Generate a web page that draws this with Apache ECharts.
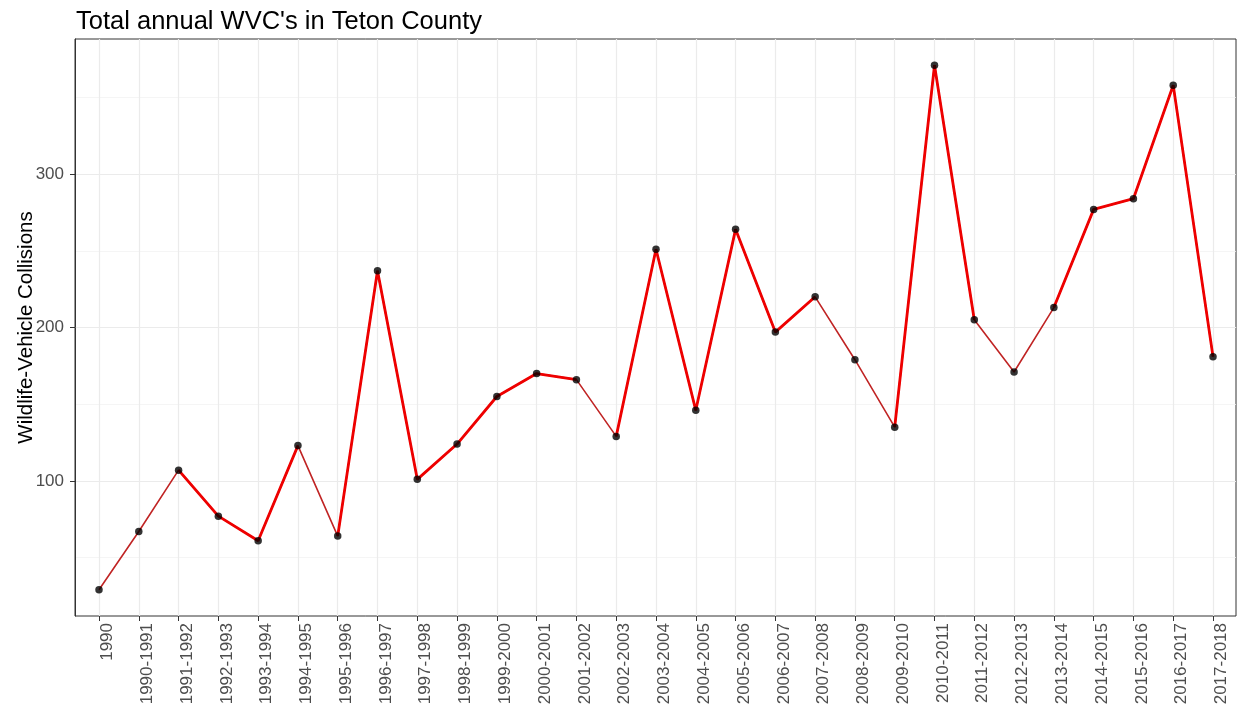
<!DOCTYPE html>
<html>
<head>
<meta charset="utf-8">
<title>Total annual WVC's in Teton County</title>
<script src="https://cdn.jsdelivr.net/npm/echarts@6/dist/echarts.min.js"></script>
<style>
  html, body { margin: 0; padding: 0; background: #fff; }
  #chart { width: 1239px; height: 713px; }
</style>
</head>
<body>
<div id="chart"></div>
<script>
const seasons = [
  '1990', '1990-1991', '1991-1992', '1992-1993', '1993-1994', '1994-1995',
  '1995-1996', '1996-1997', '1997-1998', '1998-1999', '1999-2000', '2000-2001',
  '2001-2002', '2002-2003', '2003-2004', '2004-2005', '2005-2006', '2006-2007',
  '2007-2008', '2008-2009', '2009-2010', '2010-2011', '2011-2012', '2012-2013',
  '2013-2014', '2014-2015', '2015-2016', '2016-2017', '2017-2018',
];

const collisions = [
  29, 67, 107, 77, 61, 123,
  64, 237, 101, 124, 155, 170,
  166, 129, 251, 146, 264, 197,
  220, 179, 135, 371, 205, 171,
  213, 277, 284, 358, 181,
];

const yTicks = [100, 200, 300];

// stretches of the line that come out heavier in the original (start/end index)
const heavyRuns = [[2, 5], [6, 12], [13, 18], [20, 22], [24, 28]];

const FONT = '"Liberation Sans", Arial, sans-serif';

// ggplot style 5% padding on the value range
const lo = Math.min(...collisions);
const hi = Math.max(...collisions);
const pad = (hi - lo) * 0.05;
const yMin = lo - pad;
const yMax = hi + pad;

const panel = { left: 75, right: 3, top: 39, bottom: 97 };
const inner = { left: 99, right: 26, top: 39, bottom: 97 };

const heavySeries = heavyRuns.map(([a, b]) => ({
  type: 'line',
  xAxisIndex: 1,
  yAxisIndex: 1,
  data: collisions.map((v, i) => (i >= a && i <= b ? v : null)),
  showSymbol: false,
  lineStyle: { color: '#ee0000', width: 2.8 },
  z: 3,
  silent: true,
}));

const chart = echarts.init(document.getElementById('chart'));

chart.setOption({
  animation: false,
  backgroundColor: '#ffffff',
  textStyle: { fontFamily: FONT },
  title: {
    text: "Total annual WVC's in Teton County",
    left: 76,
    top: 9,
    padding: 0,
    textStyle: { fontFamily: FONT, fontSize: 25.5, fontWeight: 'normal', color: '#000000' },
  },
  grid: [
    {
      ...panel,
      show: true,
      borderColor: '#333333',
      borderWidth: 1,
      backgroundColor: 'transparent',
      containLabel: false,
      outerBoundsMode: 'none',
    },
    { ...inner, containLabel: false, outerBoundsMode: 'none' },
  ],
  xAxis: [
    { type: 'value', gridIndex: 0, min: 0, max: 1, show: false },
    {
      type: 'category',
      gridIndex: 1,
      data: seasons,
      boundaryGap: false,
      axisLine: { show: false },
      axisTick: { show: true, interval: 0, length: 5, lineStyle: { color: '#333333', width: 1 } },
      axisLabel: {
        interval: 0,
        rotate: 90,
        margin: 7,
        verticalAlign: 'top',
        fontFamily: FONT,
        fontSize: 17,
        color: '#4d4d4d',
      },
      splitLine: { show: true, interval: 0, lineStyle: { color: '#ebebeb', width: 1.2 } },
    },
  ],
  yAxis: [
    {
      type: 'value',
      gridIndex: 0,
      min: yMin,
      max: yMax,
      name: 'Wildlife-Vehicle Collisions',
      nameLocation: 'middle',
      nameGap: 38,
      nameMoveOverlap: false,
      nameTextStyle: { fontFamily: FONT, fontSize: 20.5, color: '#000000' },
      axisLine: { show: true, lineStyle: { color: '#333333', width: 1 } },
      axisTick: { show: true, length: 5, customValues: yTicks, lineStyle: { color: '#333333', width: 1 } },
      axisLabel: {
        customValues: yTicks,
        margin: 11,
        fontFamily: FONT,
        fontSize: 17,
        color: '#4d4d4d',
      },
      splitLine: { show: true, lineStyle: { color: '#ebebeb', width: 1.2 } },
      minorTick: { show: false, splitNumber: 2 },
      minorSplitLine: { show: true, lineStyle: { color: '#f3f3f3', width: 0.8 } },
    },
    { type: 'value', gridIndex: 1, min: yMin, max: yMax, show: false },
  ],
  series: [
    {
      type: 'line',
      xAxisIndex: 1,
      yAxisIndex: 1,
      data: collisions,
      showSymbol: false,
      lineStyle: { color: '#c02424', width: 1.6 },
      z: 2,
      silent: true,
    },
    ...heavySeries,
    {
      type: 'scatter',
      xAxisIndex: 1,
      yAxisIndex: 1,
      data: collisions,
      symbol: 'circle',
      symbolSize: 7.5,
      itemStyle: { color: '#000000' },
      z: 5,
      silent: true,
    },
  ],
});
</script>
</body>
</html>
